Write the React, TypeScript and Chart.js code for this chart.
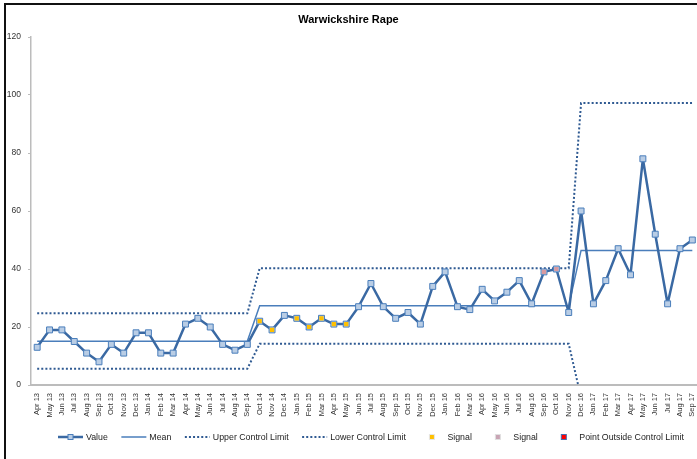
import React, { useEffect, useRef } from 'react';
import { Chart, registerables } from 'chart.js';

Chart.register(...registerables);

const chartTitle = 'Warwickshire Rape';

const categories = [
  'Apr 13', 'May 13', 'Jun 13', 'Jul 13', 'Aug 13', 'Sep 13', 'Oct 13', 'Nov 13', 'Dec 13',
  'Jan 14', 'Feb 14', 'Mar 14', 'Apr 14', 'May 14', 'Jun 14', 'Jul 14', 'Aug 14', 'Sep 14', 'Oct 14', 'Nov 14', 'Dec 14',
  'Jan 15', 'Feb 15', 'Mar 15', 'Apr 15', 'May 15', 'Jun 15', 'Jul 15', 'Aug 15', 'Sep 15', 'Oct 15', 'Nov 15', 'Dec 15',
  'Jan 16', 'Feb 16', 'Mar 16', 'Apr 16', 'May 16', 'Jun 16', 'Jul 16', 'Aug 16', 'Sep 16', 'Oct 16', 'Nov 16', 'Dec 16',
  'Jan 17', 'Feb 17', 'Mar 17', 'Apr 17', 'May 17', 'Jun 17', 'Jul 17', 'Aug 17', 'Sep 17',
];

const values = [
  13, 19, 19, 15, 11, 8, 14, 11, 18,
  18, 11, 11, 21, 23, 20, 14, 12, 14, 22, 19, 24,
  23, 20, 23, 21, 21, 27, 35, 27, 23, 25, 21, 34,
  39, 27, 26, 33, 29, 32, 36, 28, 39, 40, 25, 60,
  28, 36, 47, 38, 78, 52, 28, 47, 50,
];

const meanValues = [
  15.1, 15.1, 15.1, 15.1, 15.1, 15.1, 15.1, 15.1, 15.1,
  15.1, 15.1, 15.1, 15.1, 15.1, 15.1, 15.1, 15.1, 15.1, 27.3, 27.3, 27.3,
  27.3, 27.3, 27.3, 27.3, 27.3, 27.3, 27.3, 27.3, 27.3, 27.3, 27.3, 27.3,
  27.3, 27.3, 27.3, 27.3, 27.3, 27.3, 27.3, 27.3, 27.3, 27.3, 27.3, 46.4,
  46.4, 46.4, 46.4, 46.4, 46.4, 46.4, 46.4, 46.4, 46.4,
];

const uclValues = [
  24.7, 24.7, 24.7, 24.7, 24.7, 24.7, 24.7, 24.7, 24.7,
  24.7, 24.7, 24.7, 24.7, 24.7, 24.7, 24.7, 24.7, 24.7, 40.3, 40.3, 40.3,
  40.3, 40.3, 40.3, 40.3, 40.3, 40.3, 40.3, 40.3, 40.3, 40.3, 40.3, 40.3,
  40.3, 40.3, 40.3, 40.3, 40.3, 40.3, 40.3, 40.3, 40.3, 40.3, 40.3, 97.2,
  97.2, 97.2, 97.2, 97.2, 97.2, 97.2, 97.2, 97.2, 97.2,
];

const lclValues = [
  5.6, 5.6, 5.6, 5.6, 5.6, 5.6, 5.6, 5.6, 5.6,
  5.6, 5.6, 5.6, 5.6, 5.6, 5.6, 5.6, 5.6, 5.6, 14.2, 14.2, 14.2,
  14.2, 14.2, 14.2, 14.2, 14.2, 14.2, 14.2, 14.2, 14.2, 14.2, 14.2, 14.2,
  14.2, 14.2, 14.2, 14.2, 14.2, 14.2, 14.2, 14.2, 14.2, 14.2, 14.2, -4.4,
  -4.4, -4.4, -4.4, -4.4, -4.4, -4.4, -4.4, -4.4, -4.4,
];

const signalRunValues = [
  null, null, null, null, null, null, null, null, null,
  null, null, null, null, null, null, null, null, null, 22, 19, null,
  23, 20, 23, 21, 21, null, null, null, null, null, null, null,
  null, null, null, null, null, null, null, null, null, null, null, null,
  null, null, null, null, null, null, null, null, null,
];

const signalTrendValues = [
  null, null, null, null, null, null, null, null, null,
  null, null, null, null, null, null, null, null, null, null, null, null,
  null, null, null, null, null, null, null, null, null, null, null, null,
  null, null, null, null, null, null, null, null, 39, 40, null, null,
  null, null, null, null, null, null, null, null, null,
];

const outsideValues: (number | null)[] = categories.map(() => null);

const yTicks = [0, 20, 40, 60, 80, 100, 120];

const FONT = '"Liberation Sans", Arial, sans-serif';
const VALUE_COLOR = '#3A69A3';
const MARKER_FILL = '#B9CDE5';
const MARKER_EDGE = '#4A7EBB';
const MEAN_COLOR = '#4A7EBB';
const LIMIT_COLOR = '#2F5A92';
const YELLOW = '#FFC000';
const PINK = '#D99AA0';
const LIMIT_DASH = [2, 2.1];

function drawSquare(ctx: CanvasRenderingContext2D, cx: number, cy: number, side: number, fill: string, stroke: string | null) {
  ctx.fillStyle = fill;
  ctx.fillRect(cx - side / 2, cy - side / 2, side, side);
  if (stroke) {
    ctx.strokeStyle = stroke;
    ctx.lineWidth = 1;
    ctx.strokeRect(cx - side / 2, cy - side / 2, side, side);
  }
}

const legendSymbols: ((ctx: CanvasRenderingContext2D, x: number, y: number, w: number) => void)[] = [
  (ctx, x, y, w) => {
    ctx.strokeStyle = VALUE_COLOR; ctx.lineWidth = 2.5; ctx.setLineDash([]);
    ctx.beginPath(); ctx.moveTo(x, y); ctx.lineTo(x + w, y); ctx.stroke();
    drawSquare(ctx, x + w / 2, y, 5, MARKER_FILL, MARKER_EDGE);
  },
  (ctx, x, y, w) => {
    ctx.strokeStyle = MEAN_COLOR; ctx.lineWidth = 1.5; ctx.setLineDash([]);
    ctx.beginPath(); ctx.moveTo(x, y); ctx.lineTo(x + w, y); ctx.stroke();
  },
  (ctx, x, y, w) => {
    ctx.strokeStyle = LIMIT_COLOR; ctx.lineWidth = 2; ctx.setLineDash(LIMIT_DASH);
    ctx.beginPath(); ctx.moveTo(x, y); ctx.lineTo(x + w, y); ctx.stroke(); ctx.setLineDash([]);
  },
  (ctx, x, y, w) => {
    ctx.strokeStyle = LIMIT_COLOR; ctx.lineWidth = 2; ctx.setLineDash(LIMIT_DASH);
    ctx.beginPath(); ctx.moveTo(x, y); ctx.lineTo(x + w, y); ctx.stroke(); ctx.setLineDash([]);
  },
  (ctx, x, y, w) => drawSquare(ctx, x + w / 2, y, 5, YELLOW, '#E6E6E6'),
  (ctx, x, y, w) => drawSquare(ctx, x + w / 2, y, 5, '#C8A4B4', '#E0E0E0'),
  (ctx, x, y, w) => drawSquare(ctx, x + w / 2, y, 5, '#FF0000', '#4A6FB0'),
];

const decorPlugin = {
  id: 'decor',
  afterDraw(chart: any) {
    const ctx: CanvasRenderingContext2D = chart.ctx;
    ctx.save();
    // frame
    ctx.fillStyle = '#111111';
    ctx.fillRect(4, 3, 2, chart.height);
    ctx.fillRect(4, 3, chart.width, 2);
    // title
    ctx.fillStyle = '#000000';
    ctx.font = `bold 11px ${FONT}`;
    ctx.textAlign = 'center';
    ctx.textBaseline = 'middle';
    ctx.fillText(chartTitle, 348.5, 20);
    // legend
    ctx.font = `8.8px ${FONT}`;
    ctx.textAlign = 'left';
    let x = 58;
    const y = 437;
    const boxW = 25;
    chart.data.datasets.forEach((ds: any, i: number) => {
      legendSymbols[i](ctx, x, y, boxW);
      ctx.fillStyle = '#222222';
      ctx.fillText(ds.label, x + boxW + 3, y + 0.5);
      x += boxW + 3 + ctx.measureText(ds.label).width + 13.5;
    });
    ctx.restore();
  },
};

export default function App() {
  const canvasRef = useRef<HTMLCanvasElement | null>(null);

  useEffect(() => {
    if (!canvasRef.current) return;
    const chart = new Chart(canvasRef.current, {
      type: 'line',
      data: {
        labels: categories,
        datasets: [
          {
            label: 'Value',
            data: values,
            borderColor: VALUE_COLOR,
            borderWidth: 2.5,
            borderJoinStyle: 'round',
            pointStyle: 'rect',
            pointRadius: 4.2,
            pointBorderWidth: 1,
            pointBackgroundColor: MARKER_FILL,
            pointBorderColor: MARKER_EDGE,
            tension: 0,
            order: 1,
          },
          {
            label: 'Mean',
            data: meanValues,
            borderColor: MEAN_COLOR,
            borderWidth: 1.5,
            pointRadius: 0,
            tension: 0,
            order: 3,
          },
          {
            label: 'Upper Control Limit',
            data: uclValues,
            borderColor: LIMIT_COLOR,
            borderWidth: 2,
            borderDash: LIMIT_DASH,
            pointRadius: 0,
            tension: 0,
            order: 4,
          },
          {
            label: 'Lower Control Limit',
            data: lclValues,
            borderColor: LIMIT_COLOR,
            borderWidth: 2,
            borderDash: LIMIT_DASH,
            pointRadius: 0,
            tension: 0,
            clip: 0,
            order: 4,
          },
          {
            label: 'Signal',
            data: signalRunValues,
            showLine: false,
            pointStyle: 'rect',
            pointRadius: 3,
            pointBorderWidth: 0,
            pointBackgroundColor: YELLOW,
            order: 0,
          },
          {
            label: 'Signal',
            data: signalTrendValues,
            showLine: false,
            pointStyle: 'rect',
            pointRadius: 3,
            pointBorderWidth: 0,
            pointBackgroundColor: PINK,
            order: 0,
          },
          {
            label: 'Point Outside Control Limit',
            data: outsideValues,
            showLine: false,
            pointStyle: 'rect',
            pointRadius: 4,
            pointBorderWidth: 1,
            pointBackgroundColor: '#FF0000',
            pointBorderColor: '#4A6FB0',
            order: 0,
          },
        ] as any,
      },
      options: {
        animation: false,
        responsive: false,
        devicePixelRatio: 1,
        layout: { padding: { left: 0, top: 37, right: 13.5, bottom: 30 } },
        plugins: {
          legend: { display: false },
          title: { display: false },
          tooltip: { enabled: false },
        },
        scales: {
          x: {
            type: 'category',
            offset: true,
            grid: { display: false },
            border: { display: true, color: '#BCBCBC', width: 2 },
            ticks: {
              autoSkip: false,
              minRotation: 90,
              maxRotation: 90,
              padding: 0,
              color: '#333333',
              font: { family: FONT, size: 7.5 },
            },
            afterFit: (s: any) => { s.height = 44; },
          },
          y: {
            min: 0,
            max: 120,
            afterBuildTicks: (s: any) => { s.ticks = yTicks.map((v) => ({ value: v })); },
            grid: { drawOnChartArea: false, drawTicks: true, tickLength: 3, color: '#BCBCBC', lineWidth: 1 },
            border: { display: true, color: '#BCBCBC', width: 1.5 },
            ticks: {
              padding: 7,
              color: '#333333',
              font: { family: FONT, size: 8.5 },
            },
            afterFit: (s: any) => { s.width = 31; },
          },
        },
      },
      plugins: [decorPlugin],
    });
    return () => chart.destroy();
  }, []);

  return (
    <div style={{ position: 'absolute', left: 0, top: 0, width: 697, height: 459, overflow: 'hidden', background: '#ffffff' }}>
      <canvas ref={canvasRef} width={712} height={459} style={{ display: 'block' }} />
    </div>
  );
}
